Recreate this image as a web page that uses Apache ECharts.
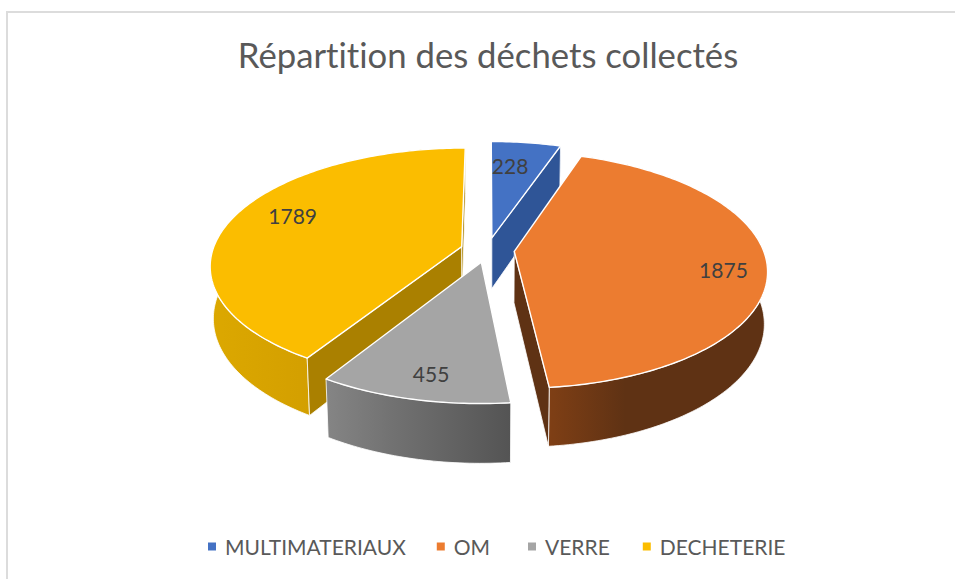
<!DOCTYPE html>
<html>
<head>
<meta charset="utf-8">
<style>
  html, body { margin: 0; padding: 0; background: #fff; }
  #chart { width: 955px; height: 579px; }
  #chart text { font-variant-ligatures: none; }
</style>
<script src="https://cdn.jsdelivr.net/npm/echarts@6/dist/echarts.min.js"></script>
</head>
<body>
<div id="chart"></div>
<script>
const categories = ['MULTIMATERIAUX', 'OM', 'VERRE', 'DECHETERIE'];
const values = [228, 1875, 455, 1789];

const topColors = ['#4472C4', '#EC7C30', '#A5A5A5', '#FBBD00'];
const cutColors = ['#2F5597', '#5F3214', '#6E6E6E', '#AA8000'];
const rimColors = [
  ['#2F5597', '#2F5597', '#2F5597'],
  ['#7F3F15', '#5F3214', '#5F3214'],
  ['#858585', '#727272', '#545454'],
  ['#DCA800', '#D4A000', '#C49400']
];
// where each value label sits on its slice: clock angle, share of the radius
const labelSpots = [[6.7, 0.725], [100.4, 0.83], [191.8, 0.83], [291.5, 0.77]];
// back to front
const drawOrder = [0, 3, 1, 2];

// camera for the tilted pie
const cx = 487.5, cy = 250;
const tilt = 27.5 * Math.PI / 180;
const dist = 5.69, focal = 1417;
const thick = 0.235, explode = 0.108;

const total = values.reduce((a, b) => a + b, 0);
const starts = [];
values.reduce((acc, v, i) => { starts[i] = acc; return acc + v; }, 0);

function project(x, d, z) {
  // the side walls converge less than a true camera would, as in the picture
  let w = dist - d * Math.cos(tilt) - 0.6 * z * Math.sin(tilt);
  return [cx + focal * x / w, cy + focal * (d * Math.sin(tilt) - z * Math.cos(tilt)) / w];
}

function area(pts) {
  let s = 0;
  pts.forEach((p, i) => {
    let q = pts[(i + 1) % pts.length];
    s += p[0] * q[1] - q[0] * p[1];
  });
  return s;
}

function renderSlice(index, value) {
  let a0 = starts[index] / total * Math.PI * 2;
  let a1 = a0 + value / total * Math.PI * 2;
  let mid = (a0 + a1) / 2;
  let ox = explode * Math.sin(mid), od = -explode * Math.cos(mid);
  let at = (ang, r, z) => project(ox + r * Math.sin(ang), od - r * Math.cos(ang), z);

  let topArc = [], lowArc = [];
  let steps = Math.ceil((a1 - a0) / (Math.PI / 180));
  for (let i = 0; i <= steps; i++) {
    let ang = a0 + (a1 - a0) * i / steps;
    topArc.push(at(ang, 1, 0));
    lowArc.push(at(ang, 1, -thick));
  }

  let poly = (points, fill, lw) => ({
    type: 'polygon',
    shape: { points: points },
    style: { fill: fill, stroke: '#fff', lineWidth: lw, lineJoin: 'round' }
  });

  let children = [];
  let rim = new echarts.graphic.LinearGradient(0, 0, 1, 0, [
    { offset: 0, color: rimColors[index][0] },
    { offset: 0.35, color: rimColors[index][1] },
    { offset: 1, color: rimColors[index][2] }
  ]);
  children.push(poly(topArc.concat(lowArc.slice().reverse()), rim, 0.8));

  let hub = at(0, 0, 0), hubLow = at(0, 0, -thick);
  // start cut runs hub -> rim, end cut rim -> hub, keep only those facing the viewer
  let cutA = [hub, topArc[0], lowArc[0], hubLow];
  let cutB = [topArc[steps], hub, hubLow, lowArc[steps]];
  [cutA, cutB].forEach((cut) => {
    if (area(cut) < 0) children.push(poly(cut, cutColors[index], 0.8));
  });

  children.push(poly([hub].concat(topArc), topColors[index], 1.4));

  let spot = labelSpots[index];
  let pos = at(spot[0] * Math.PI / 180, spot[1], 0);
  children.push({
    type: 'text',
    style: {
      x: pos[0], y: pos[1],
      text: String(value),
      fill: '#404040',
      font: '21px Lato',
      align: 'center',
      verticalAlign: 'middle'
    }
  });
  return { type: 'group', children: children };
}

// the gaps in the legend are uneven, so it is laid out in two runs
function legendRun(names, left, gap) {
  return {
    data: names,
    left: left,
    top: 531,
    icon: 'rect',
    itemWidth: 8,
    itemHeight: 8,
    itemGap: gap,
    textStyle: { fontFamily: 'Lato', fontSize: 21, color: '#595959', padding: [0, 0, 0, 4] }
  };
}

let myChart = echarts.init(document.getElementById('chart'), null, { renderer: 'svg' });
myChart.setOption({
  animation: false,
  backgroundColor: '#fff',
  title: {
    text: 'Répartition des déchets collectés',
    left: 483,
    top: 32,
    textAlign: 'center',
    textStyle: { fontFamily: 'Lato', fontSize: 34.7, fontWeight: 'normal', color: '#595959' }
  },
  legend: [
    legendRun(categories.slice(0, 2), 203, 31),
    legendRun(categories.slice(2), 523, 33)
  ],
  graphic: [
    { type: 'rect', shape: { x: 6, y: 11, width: 949, height: 2 }, style: { fill: '#DCDCDC' } },
    { type: 'rect', shape: { x: 6, y: 11, width: 2, height: 568 }, style: { fill: '#DCDCDC' } }
  ],
  series: drawOrder.map((i) => ({
    type: 'custom',
    name: categories[i],
    coordinateSystem: 'none',
    itemStyle: { color: topColors[i] },
    data: [values[i]],
    renderItem: (params, api) => renderSlice(i, api.value(0))
  }))
});
</script>
</body>
</html>
